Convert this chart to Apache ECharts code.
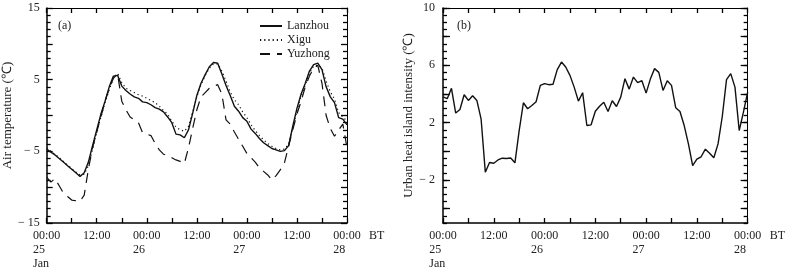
<!DOCTYPE html>
<html>
<head>
<meta charset="utf-8">
<script src="https://cdn.jsdelivr.net/npm/echarts@6/dist/echarts.min.js"></script>
<style>
  html, body { margin: 0; padding: 0; background: #fff; }
  #chart { width: 788px; height: 273px; }
</style>
</head>
<body>
<div id="chart"></div>
<script>
// hourly values, 00:00 25 Jan .. 00:00 28 Jan (BT)
var lanzhou = [-4.7,-5.1,-5.5,-6.0,-6.5,-7.0,-7.5,-8.0,-8.5,-8.0,-6.5,-4.2,-2.0,0.2,2.0,4.0,5.5,5.6,4.1,3.5,3.0,2.6,2.4,1.9,
  1.8,1.5,1.1,0.9,0.5,-0.2,-1.0,-2.6,-2.7,-3.1,-2.0,0.3,2.8,4.5,5.7,6.8,7.4,7.3,5.8,4.2,2.8,1.3,0.6,-0.3,
  -0.8,-1.9,-2.5,-3.2,-3.8,-4.2,-4.6,-4.8,-5.0,-4.9,-4.2,-1.5,1.0,3.0,4.5,6.2,7.1,7.3,6.4,4.0,2.6,1.8,-0.3,-0.5,-1.3];
var xigu = [-4.5,-5.0,-5.4,-5.9,-6.4,-6.9,-7.4,-7.9,-8.3,-8.2,-7.0,-4.8,-2.4,-0.2,1.8,3.6,5.2,5.9,4.6,3.8,3.5,3.2,2.9,2.7,
  2.4,2.1,1.8,1.3,0.7,0.2,-0.8,-1.6,-2.0,-2.2,-1.5,0.5,2.6,4.3,5.6,6.6,7.2,7.2,6.2,4.8,3.3,2.2,1.5,0.5,
  -0.3,-1.3,-2.1,-2.8,-3.4,-3.9,-4.3,-4.6,-4.8,-4.7,-4.0,-1.8,0.7,2.7,4.3,5.9,6.9,7.0,6.6,4.8,3.3,2.3,0.4,-0.2,-0.8];
var yuzhong = [-8.6,-9.3,-8.8,-9.8,-10.8,-11.3,-11.8,-11.9,-12.0,-11.1,-7.5,-4.5,-2.3,-0.2,2.0,3.8,5.2,5.8,2.0,0.8,-0.2,-0.6,-1.0,-2.4,
  -2.6,-2.8,-3.9,-4.8,-5.4,-5.6,-5.9,-6.2,-6.4,-6.7,-4.5,-1.8,0.8,2.6,3.2,3.8,4.1,4.3,3.0,-0.6,-1.2,-2.3,-3.3,-4.3,
  -5.3,-5.9,-6.5,-7.3,-7.8,-8.3,-9.0,-8.4,-7.6,-6.6,-4.3,-2.0,0.2,2.0,4.0,5.5,6.6,7.0,4.5,0.0,-1.8,-2.9,-2.0,-1.2,-4.5];
var heatIsland = [3.8,3.67,4.4,2.67,2.92,3.95,3.55,3.88,3.55,2.27,-1.46,-0.78,-0.83,-0.6,-0.48,-0.5,-0.47,-0.8,1.45,3.39,2.97,3.2,3.46,4.6,
  4.72,4.65,4.68,5.7,6.23,5.88,5.3,4.48,3.5,4.09,1.8,1.85,2.8,3.15,3.43,2.78,3.53,3.13,3.78,5.07,4.34,5.18,4.79,4.93,
  4.06,5.04,5.77,5.51,4.25,4.93,4.6,3.04,2.78,1.8,0.52,-1.0,-0.55,-0.38,0.15,-0.13,-0.45,0.52,2.43,5.0,5.42,4.48,1.45,2.73,4.13];

var timeLabels = ['00:00', '12:00', '00:00', '12:00', '00:00', '12:00', '00:00'];
var dayLabels = ['25', '', '26', '', '27', '', '28'];
var monthLabel = 'Jan';
var seriesNames = ['Lanzhou', 'Xigu', 'Yuzhong'];
var tempLabels = [-15, -5, 5, 15];
var uhiLabels = [-2, 2, 6, 10];
var uhiLongTicks = [-4, -2, 0, 2, 4, 6, 8, 10];

function pairs(arr) {
    var out = [];
    for (var i = 0; i < arr.length; i++) out.push([i, arr[i]]);
    return out;
}

var FONT = 'Liberation Serif';
var INK = '#222';

function timeFmt(v) {
    if (v % 12 !== 0) return '';
    var i = v / 12;
    var s = '{t|' + timeLabels[i] + '}';
    if (dayLabels[i]) s += '\n{d|' + dayLabels[i] + '}';
    if (i === 0) s += '\n{d|' + monthLabel + '}';
    return s;
}

function tick() { return { color: '#000', width: 1.3 }; }
// keep split lines "on" but invisible
var hiddenSplit = { show: true, lineStyle: { color: 'rgba(0,0,0,0)', width: 0 } };

function xAx(grid, pos, labels) {
    return {
        type: 'value', gridIndex: grid, position: pos,
        min: 0, max: 72, interval: 6,
        name: labels ? 'BT' : '', nameLocation: 'end', nameGap: 22,
        nameTextStyle: { fontFamily: FONT, fontSize: 12, color: INK, verticalAlign: 'top', padding: [7, 0, 0, 0] },
        axisLine: { show: true, onZero: false, lineStyle: { color: '#000', width: labels ? 1.5 : 1 } },
        axisTick: { show: true, inside: true, length: 5, lineStyle: tick() },
        splitLine: hiddenSplit,
        axisLabel: {
            show: labels, margin: 6, formatter: timeFmt,
            fontFamily: FONT, fontSize: 12, color: INK, lineHeight: 14,
            rich: {
                t: { fontFamily: FONT, fontSize: 12, color: INK, lineHeight: 14 },
                d: { fontFamily: FONT, fontSize: 12, color: INK, lineHeight: 14, align: 'left' }
            }
        }
    };
}

function yAx(grid, pos, min, interval, opts) {
    var ax = {
        type: 'value', gridIndex: grid, position: pos, min: min, max: min === -15 ? 15 : 10, interval: interval,
        axisLine: { show: true, onZero: false, lineStyle: { color: '#000', width: pos === 'left' ? 1.5 : 1 } },
        axisTick: { show: true, inside: true, length: 6, lineStyle: tick() },
        splitLine: hiddenSplit,
        axisLabel: { show: false }
    };
    for (var k in opts) ax[k] = opts[k];
    return ax;
}

var minus = function (v) { return String(v).replace('-', '\u2212 '); };

var chart = echarts.init(document.getElementById('chart'));
var option = {
    animation: false,
    backgroundColor: '#fff',
    title: [
        { text: '(a)', left: 53, top: 15, textStyle: { fontFamily: FONT, fontSize: 12, fontWeight: 'normal', color: INK } },
        { text: '(b)', left: 452, top: 15, textStyle: { fontFamily: FONT, fontSize: 12, fontWeight: 'normal', color: INK } }
    ],
    legend: {
        data: seriesNames, orient: 'vertical', left: 254, top: 15,
        itemWidth: 22, itemHeight: 12, itemGap: 2,
        itemStyle: { color: 'transparent', borderColor: 'transparent', borderWidth: 0 },
        textStyle: { fontFamily: FONT, fontSize: 12, color: INK }
    },
    grid: [
        { left: 44, top: 8, width: 303, height: 215 },
        { left: 443, top: 8, width: 306, height: 215 }
    ],
    xAxis: [xAx(0, 'bottom', true), xAx(0, 'top', false), xAx(1, 'bottom', true), xAx(1, 'top', false)],
    yAxis: [
        yAx(0, 'left', -15, 5, {
            name: 'Air temperature (℃)', nameLocation: 'middle', nameGap: 27,
            nameTextStyle: { fontFamily: FONT, fontSize: 13, color: INK },
            minorTick: { show: true, splitNumber: 5, length: 4, lineStyle: tick() },
            axisLabel: {
                margin: 7, fontFamily: FONT, fontSize: 12, color: INK,
                formatter: function (v) { return tempLabels.indexOf(v) >= 0 ? minus(v) : ''; }
            }
        }),
        yAx(0, 'right', -15, 5, {
            minorTick: { show: true, splitNumber: 5, length: 4, lineStyle: tick() }
        }),
        yAx(1, 'left', -5, 1, {
            axisTick: { show: true, inside: true, length: 4, lineStyle: tick() },
            minorTick: { show: true, splitNumber: 2, length: 4, lineStyle: tick() }
        }),
        yAx(1, 'right', -5, 1, {
            axisTick: { show: true, inside: true, length: 4, lineStyle: tick() },
            minorTick: { show: true, splitNumber: 2, length: 4, lineStyle: tick() }
        }),
        // long ticks and labels for panel (b)
        yAx(1, 'left', -5, 1, {
            name: 'Urban heat island intensity (℃)', nameLocation: 'middle', nameGap: 26,
            nameTextStyle: { fontFamily: FONT, fontSize: 13, color: INK },
            axisLine: { show: false, onZero: false },
            axisTick: { show: true, inside: true, length: 7, customValues: uhiLongTicks, lineStyle: tick() },
            axisLabel: { margin: 8, fontFamily: FONT, fontSize: 12, color: INK, customValues: uhiLabels, formatter: minus }
        }),
        yAx(1, 'right', -5, 1, {
            axisLine: { show: false, onZero: false },
            axisTick: { show: true, inside: true, length: 7, customValues: uhiLongTicks, lineStyle: tick() }
        })
    ],
    series: [
        {
            name: seriesNames[0], type: 'line', xAxisIndex: 0, yAxisIndex: 0,
            data: pairs(lanzhou), symbol: 'none',
            lineStyle: { color: '#111', width: 1.4, type: 'solid' }, itemStyle: { color: '#111' }
        },
        {
            name: seriesNames[1], type: 'line', xAxisIndex: 0, yAxisIndex: 0,
            data: pairs(xigu), symbol: 'none',
            lineStyle: { color: '#111', width: 1.2, type: [1.2, 3] }, itemStyle: { color: '#111' }
        },
        {
            name: seriesNames[2], type: 'line', xAxisIndex: 0, yAxisIndex: 0,
            data: pairs(yuzhong), symbol: 'none',
            lineStyle: { color: '#111', width: 1.2, type: [10, 7] }, itemStyle: { color: '#111' }
        },
        {
            name: 'UHI', type: 'line', xAxisIndex: 2, yAxisIndex: 2,
            data: pairs(heatIsland), symbol: 'none',
            lineStyle: { color: '#111', width: 1.4 }, itemStyle: { color: '#111' }
        }
    ]
};
chart.setOption(option);
window.onresize = chart.resize;
</script>
</body>
</html>
